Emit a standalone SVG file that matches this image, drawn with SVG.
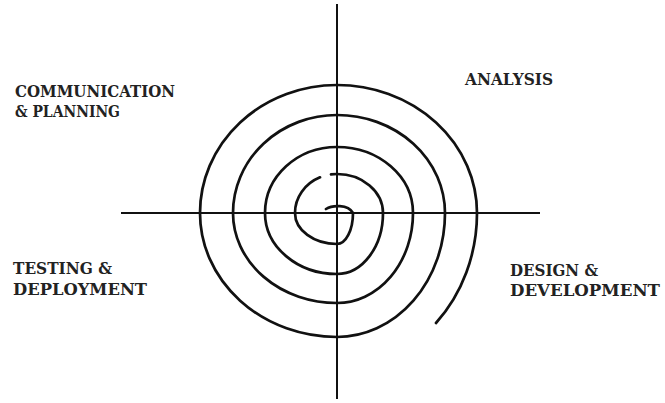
<svg xmlns="http://www.w3.org/2000/svg" width="665" height="403" viewBox="0 0 665 403">
  <style>
    .axis { stroke: #111; stroke-width: 2; fill: none; }
    .spiral { stroke: #111; stroke-width: 2.7; fill: none; stroke-linecap: round; stroke-linejoin: round; }
    .lbl { font-family: "DejaVu Serif", "Liberation Serif", serif; font-weight: bold; font-size: 16.5px; fill: #222; }
  </style>
  <rect x="0" y="0" width="665" height="403" fill="#ffffff"/>
  <g id="axes">
    <line class="axis" x1="337" y1="4" x2="337" y2="399"/>
    <line class="axis" x1="121" y1="213" x2="540" y2="213"/>
  </g>
  <g id="spiral">
    <path class="spiral" d="M 326 209 C 332 205 348 204 353 213
      A 16 31 0 0 1 337 244
      A 42 31 0 0 1 295 213
      A 42 39 0 0 1 320 177.3
      M 331 174.4
      A 42 39 0 0 1 337 174
      A 46 39 0 0 1 383 213
      A 46 61 0 0 1 337 274
      A 72 61 0 0 1 265 213
      A 72 66 0 0 1 337 147
      A 76 66 0 0 1 413 213
      A 76 90 0 0 1 337 303
      A 104 90 0 0 1 233 213
      A 104 98 0 0 1 337 115
      A 108 98 0 0 1 445 213
      A 108 124 0 0 1 337 337
      A 137 124 0 0 1 200 213
      A 137 128 0 0 1 337 85
      A 140 128 0 0 1 477 213
      A 140 155.6 0 0 1 436 323"/>
  </g>
  <g id="label-communication">
    <text class="lbl" x="15" y="97" textLength="160" lengthAdjust="spacingAndGlyphs">COMMUNICATION</text>
    <text class="lbl" x="15" y="117" textLength="105" lengthAdjust="spacingAndGlyphs">&amp; PLANNING</text>
  </g>
  <g id="label-analysis">
    <text class="lbl" x="465" y="85" textLength="88" lengthAdjust="spacingAndGlyphs">ANALYSIS</text>
  </g>
  <g id="label-testing">
    <text class="lbl" x="13" y="274" textLength="99" lengthAdjust="spacingAndGlyphs">TESTING &amp;</text>
    <text class="lbl" x="13" y="295" textLength="134" lengthAdjust="spacingAndGlyphs">DEPLOYMENT</text>
  </g>
  <g id="label-design">
    <text class="lbl" x="510" y="276" textLength="88" lengthAdjust="spacingAndGlyphs">DESIGN &amp;</text>
    <text class="lbl" x="510" y="296" textLength="150" lengthAdjust="spacingAndGlyphs">DEVELOPMENT</text>
  </g>
</svg>
